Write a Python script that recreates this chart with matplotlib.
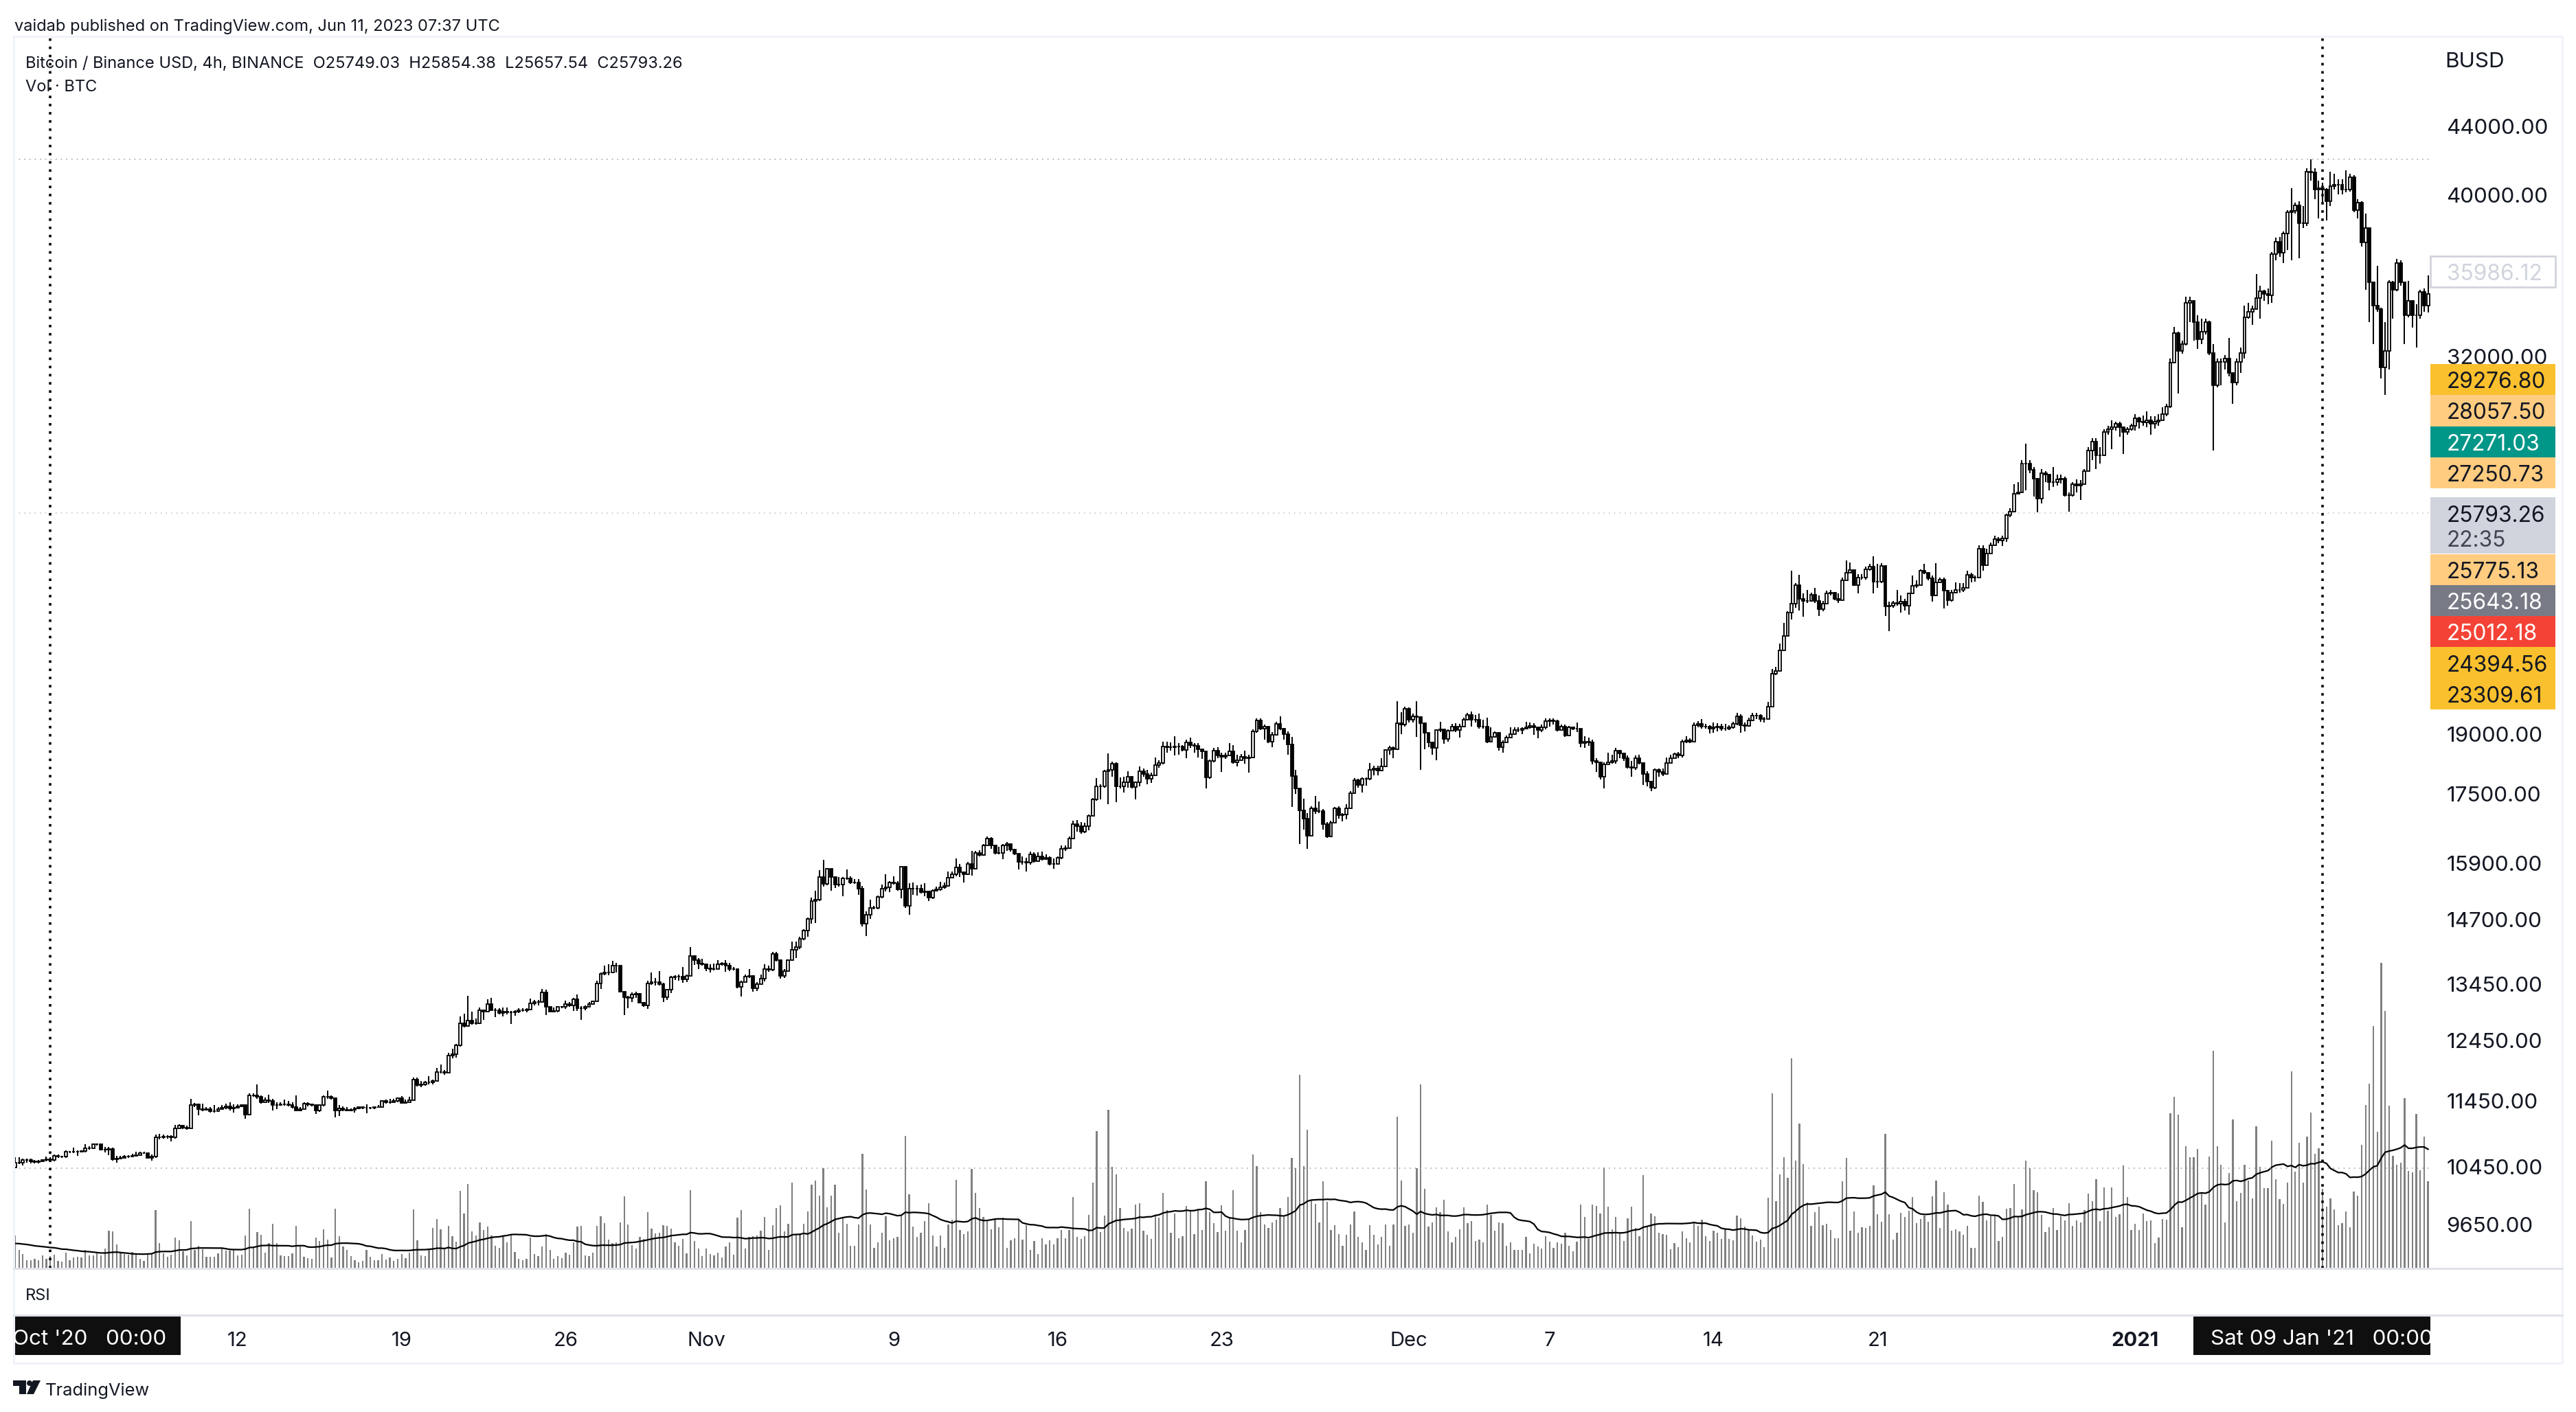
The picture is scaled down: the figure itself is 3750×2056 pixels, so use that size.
import matplotlib
matplotlib.use("Agg")
import matplotlib.pyplot as plt
import numpy as np
import pandas as pd
from matplotlib.patches import Circle, Polygon, Rectangle

W, H = 3750, 2056
PANE_L, PANE_R, PANE_T, PANE_B = 20, 3538, 53, 1847
INK = "#131722"

first_open = 10440
closes = [
    10507, 10514, 10553, 10549, 10535, 10525, 10535, 10549, 10560, 10549,
    10615, 10604, 10597, 10675, 10668, 10675, 10668, 10678, 10725, 10725,
    10785, 10782, 10704, 10704, 10715, 10560, 10572, 10583, 10597, 10604,
    10611, 10622, 10657, 10657, 10586, 10597, 10890, 10883, 10893, 10893,
    10883, 11022, 11060, 11033, 11022, 11385, 11393, 11317, 11309, 11324,
    11286, 11286, 11320, 11336, 11366, 11328, 11339, 11366, 11378, 11233,
    11533, 11541, 11517, 11424, 11463, 11451, 11378, 11385, 11393, 11393,
    11385, 11347, 11297, 11317, 11405, 11393, 11385, 11301, 11378, 11510,
    11510, 11494, 11301, 11328, 11309, 11301, 11309, 11328, 11347, 11339,
    11336, 11336, 11347, 11355, 11444, 11424, 11424, 11453, 11492, 11418,
    11428, 11463, 11790, 11700, 11715, 11740, 11740, 11765, 11918, 11918,
    11908, 12193, 12209, 12366, 12742, 12700, 12795, 12742, 12742, 12980,
    12955, 13090, 12980, 12970, 12925, 12955, 12940, 12940, 12950, 12980,
    12980, 12985, 13100, 13120, 13130, 13301, 13035, 12955, 12965, 13035,
    13035, 13090, 13060, 13170, 13015, 13010, 13035, 13090, 13135, 13470,
    13640, 13670, 13670, 13805, 13805, 13315, 13210, 13195, 13260, 13280,
    13110, 13060, 13470, 13490, 13490, 13450, 13210, 13345, 13585, 13590,
    13590, 13535, 13610, 13990, 13910, 13840, 13825, 13750, 13740, 13740,
    13825, 13840, 13805, 13740, 13740, 13405, 13490, 13590, 13600, 13375,
    13450, 13555, 13740, 13725, 14030, 13900, 13600, 13700, 13900, 14105,
    14155, 14320, 14480, 14725, 15090, 15110, 15590, 15445, 15770, 15590,
    15430, 15430, 15565, 15565, 15485, 15485, 15350, 14620, 14810, 14950,
    14950, 15170, 15350, 15370, 15485, 15470, 15330, 15815, 14990, 15350,
    15350, 15350, 15270, 15285, 15165, 15310, 15330, 15370, 15410, 15575,
    15660, 15800, 15700, 15660, 15880, 15770, 16130, 16070, 16300, 16455,
    16300, 16130, 16130, 16300, 16320, 16200, 16110, 15930, 15930, 15905,
    16090, 15945, 16048, 15985, 16010, 15880, 15880, 16010, 16210, 16230,
    16455, 16775, 16730, 16600, 16730, 16975, 17354, 17675, 17675, 18050,
    18080, 18240, 17675, 17675, 17770, 17910, 17660, 17770, 18050, 17975,
    17860, 17950, 18200, 18250, 18680, 18660, 18660, 18680, 18680, 18585,
    18780, 18710, 18690, 18615, 18545, 17903, 18300, 18565, 18440, 18420,
    18440, 18545, 18279, 18326, 18420, 18374, 18393, 19073, 19360, 19152,
    19200, 18808, 18984, 19270, 19152, 19004, 18730, 17931, 17627, 17104,
    16907, 16518, 17156, 17085, 17085, 16779, 16492, 16805, 17147, 16980,
    16997, 17147, 17508, 17829, 17718, 17857, 17857, 18090, 18118, 18071,
    18165, 18585, 18643, 18615, 19280, 19252, 19680, 19380, 19480, 19460,
    19280, 19033, 18778, 18633, 19102, 19122, 18876, 19082, 19200, 19102,
    19200, 19380, 19510, 19380, 19380, 19200, 19200, 18808, 18935, 19033,
    18662, 18778, 18905, 19004, 19102, 19102, 19152, 19182, 19222, 19172,
    19102, 19172, 19340, 19360, 19340, 19102, 19200, 18965, 19172, 19152,
    19150, 18759, 18805, 18780, 18310, 18275, 17910, 18220, 18275, 18310,
    18565, 18500, 18375, 18160, 18140, 18375, 18255, 17990, 17790, 17645,
    18085, 18030, 17990, 18255, 18375, 18480, 18445, 18805, 18830, 18805,
    19240, 19265, 19200, 19200, 19135, 19175, 19200, 19150, 19135, 19175,
    19265, 19465, 19240, 19215, 19365, 19495, 19495, 19395, 19395, 19730,
    20645, 20740, 21330, 21760, 22470, 22740, 23330, 22900, 22830, 22830,
    23040, 22830, 22570, 22740, 23070, 23100, 22900, 22860, 23500, 23750,
    23840, 23330, 23580, 23580, 23860, 23950, 23460, 23460, 23980, 22660,
    22690, 22770, 22740, 22815, 22690, 23070, 23310, 23340, 23800, 23750,
    23560, 23000, 23430, 23510, 23160, 22860, 23100, 23190, 23190, 23250,
    23670, 23590, 23590, 24540, 24000, 24380, 24670, 24870, 24830, 24900,
    25700, 25830, 26490, 26540, 27600, 27600, 27380, 27050, 26310, 27240,
    27190, 26920, 26920, 27000, 27050, 26440, 26440, 26840, 26780, 26840,
    27330, 28110, 28450, 27930, 27930, 28850, 28940, 29020, 29170, 29020,
    28850, 28940, 29080, 29380, 29260, 29230, 29320, 29170, 29260, 29320,
    29560, 29860, 31750, 33060, 32250, 32570, 34470, 34570, 33550, 32790,
    33120, 33550, 32170, 30750, 31760, 31760, 31920, 31280, 30870, 31760,
    32170, 33790, 34060, 34170, 34690, 35040, 34900, 34830, 36880, 37500,
    36950, 37920, 39050, 39130, 39450, 38480, 38480, 41320, 41280, 40300,
    40370, 40300, 39660, 40500, 40580, 40580, 40300, 40300, 41000, 39190,
    39590, 37470, 38220, 35450, 34340, 34170, 31530, 32250, 35450, 35100,
    36430, 35450, 33900, 34570, 33900, 33900, 35010, 34340, 34900,
]
highs = [
    10590, 10590, 10570, 10570, 10570, 10555, 10554, 10560, 10598, 10587,
    10634, 10627, 10616, 10694, 10687, 10736, 10695, 10697, 10780, 10755,
    10796, 10797, 10780, 10742, 10741, 10734, 10610, 10608, 10622, 10626,
    10640, 10670, 10668, 10668, 10652, 10635, 10931, 10938, 10930, 10919,
    10920, 11078, 11086, 11070, 11059, 11482, 11416, 11405, 11405, 11355,
    11347, 11378, 11347, 11378, 11405, 11424, 11393, 11393, 11393, 11378,
    11572, 11572, 11715, 11533, 11502, 11548, 11478, 11424, 11424, 11470,
    11443, 11432, 11541, 11355, 11424, 11424, 11405, 11397, 11393, 11533,
    11610, 11533, 11494, 11378, 11366, 11355, 11328, 11355, 11362, 11362,
    11393, 11355, 11362, 11385, 11455, 11470, 11478, 11478, 11507, 11530,
    11467, 11517, 11825, 11826, 11765, 11765, 11841, 11790, 11980, 12036,
    11944, 12235, 12305, 12387, 12862, 12918, 13235, 12950, 12824, 13025,
    12977, 13175, 13205, 13009, 13008, 13022, 13024, 12968, 12978, 13008,
    13008, 13007, 13185, 13160, 13158, 13358, 13345, 13039, 13021, 13052,
    13052, 13146, 13127, 13204, 13267, 13044, 13063, 13118, 13152, 13510,
    13669, 13800, 13823, 13894, 13852, 13705, 13307, 13240, 13294, 13309,
    13291, 13127, 13510, 13676, 13571, 13699, 13477, 13356, 13603, 13613,
    13631, 13780, 13633, 14153, 14000, 13941, 13926, 13845, 13829, 13840,
    13908, 13870, 13912, 13858, 13770, 13733, 13519, 13631, 13734, 13622,
    13496, 13625, 13829, 13797, 14066, 14060, 13925, 13730, 13922, 14265,
    14260, 14365, 14518, 14748, 15153, 15307, 15752, 15970, 15795, 15752,
    15590, 15590, 15590, 15760, 15606, 15550, 15550, 15410, 14870, 15120,
    14990, 15200, 15430, 15650, 15510, 15606, 15513, 15840, 15815, 15470,
    15486, 15414, 15430, 15470, 15307, 15326, 15394, 15490, 15474, 15713,
    15717, 15999, 15880, 15717, 15921, 16165, 16172, 16187, 16325, 16498,
    16478, 16298, 16256, 16325, 16371, 16343, 16219, 16096, 16054, 16012,
    16157, 16136, 16131, 16160, 16093, 16045, 16004, 16052, 16294, 16298,
    16489, 16862, 16878, 16833, 16817, 17010, 17399, 17877, 17721, 18078,
    18494, 18287, 18277, 17905, 17909, 18050, 17936, 17788, 18172, 18115,
    18092, 18015, 18399, 18326, 18806, 18806, 18777, 18950, 18759, 18710,
    18857, 18905, 18759, 18759, 18615, 18545, 18345, 18643, 18662, 18517,
    18517, 18759, 18710, 18469, 18487, 18565, 18469, 19132, 19410, 19410,
    19252, 19200, 19053, 19331, 19480, 19152, 19073, 18935, 18090, 17627,
    17372, 17041, 17192, 17443, 17309, 17130, 16822, 16866, 17174, 17192,
    17041, 17245, 17554, 17875, 17857, 17903, 17903, 18260, 18184, 18184,
    18374, 18615, 18691, 18681, 19880, 19575, 19740, 19710, 19540, 19880,
    19480, 19310, 19033, 18808, 19132, 19331, 19132, 19132, 19270, 19280,
    19270, 19430, 19560, 19610, 19510, 19540, 19380, 19440, 19172, 19073,
    19053, 18837, 18955, 19172, 19172, 19172, 19172, 19331, 19300, 19290,
    19172, 19252, 19410, 19410, 19410, 19380, 19252, 19252, 19222, 19200,
    19300, 19152, 18950, 18910, 18860, 18370, 18280, 18280, 18520, 18460,
    18640, 18580, 18490, 18440, 18300, 18440, 18460, 18280, 18050, 17810,
    18120, 18110, 18110, 18400, 18460, 18520, 18540, 18860, 18950, 18890,
    19300, 19340, 19400, 19265, 19240, 19300, 19290, 19265, 19265, 19240,
    19330, 19560, 19530, 19300, 19440, 19560, 19560, 19530, 19460, 19860,
    20790, 20850, 21530, 22150, 22510, 23800, 23410, 23680, 23070, 23190,
    23100, 23250, 23000, 22840, 23160, 23190, 23130, 23070, 23590, 24160,
    24080, 23860, 23700, 23700, 23940, 24030, 24290, 24030, 24060, 24000,
    22810, 22840, 23190, 23000, 22910, 23100, 23650, 23490, 23850, 24030,
    23750, 23650, 24060, 23590, 23590, 23190, 23180, 23440, 23410, 23410,
    23800, 23750, 23660, 24670, 24670, 24540, 24760, 24990, 24950, 25000,
    25750, 25950, 26840, 26920, 27750, 28390, 27750, 27470, 27060, 27390,
    27330, 27190, 27470, 27190, 27190, 27110, 26520, 26920, 27000, 26980,
    27410, 28250, 28590, 28590, 28250, 28940, 29080, 29320, 29260, 29260,
    28970, 29020, 29170, 29550, 29440, 29500, 29670, 29470, 29470, 29550,
    29850, 29970, 31920, 33330, 33120, 32730, 34750, 34750, 34580, 33890,
    33720, 33720, 33620, 32570, 31920, 31920, 32080, 32830, 31280, 31920,
    32400, 34340, 34470, 34340, 35880, 35280, 35100, 35170, 36970, 37730,
    37760, 38030, 39190, 40380, 39580, 39660, 39390, 41530, 42040, 41530,
    40790, 40700, 40380, 41320, 41200, 40870, 40870, 41410, 41200, 41120,
    39780, 39660, 39000, 38220, 35450, 36280, 34240, 33550, 35560, 35520,
    36610, 36540, 35450, 35520, 34580, 34410, 35100, 35170, 35800,
]
lows = [
    10430, 10488, 10467, 10511, 10505, 10498, 10505, 10522, 10533, 10522,
    10531, 10577, 10578, 10583, 10649, 10656, 10611, 10659, 10663, 10706,
    10715, 10760, 10693, 10666, 10620, 10542, 10514, 10558, 10572, 10582,
    10589, 10597, 10638, 10642, 10571, 10542, 10580, 10853, 10863, 10863,
    10827, 10865, 11034, 11011, 11003, 11030, 11347, 11225, 11282, 11301,
    11263, 11263, 11301, 11317, 11316, 11301, 11262, 11328, 11347, 11168,
    11225, 11510, 11482, 11405, 11432, 11416, 11301, 11324, 11370, 11370,
    11362, 11328, 11282, 11282, 11328, 11362, 11362, 11240, 11278, 11366,
    11483, 11471, 11186, 11213, 11290, 11286, 11282, 11262, 11324, 11320,
    11251, 11317, 11316, 11336, 11347, 11401, 11401, 11428, 11428, 11408,
    11418, 11443, 11463, 11675, 11665, 11690, 11715, 11715, 11775, 11892,
    11867, 11905, 12146, 12155, 12335, 12673, 12685, 12715, 12715, 12730,
    12810, 12955, 12958, 12858, 12903, 12866, 12901, 12734, 12883, 12924,
    12947, 12935, 12987, 13064, 13062, 13112, 12884, 12938, 12937, 12940,
    13007, 13000, 13032, 12960, 12959, 12803, 12979, 13062, 13079, 13151,
    13358, 13623, 13623, 13657, 13675, 13303, 12886, 13013, 13123, 13194,
    13093, 13032, 13000, 13444, 13432, 13427, 13125, 13156, 13282, 13526,
    13514, 13471, 13493, 13640, 13820, 13739, 13795, 13691, 13669, 13710,
    13730, 13798, 13686, 13693, 13710, 13371, 13223, 13485, 13571, 13318,
    13323, 13450, 13504, 13689, 13690, 13880, 13550, 13570, 13705, 13890,
    13950, 14120, 14292, 14365, 14620, 14640, 15085, 15390, 15425, 15310,
    15365, 15390, 15185, 15532, 15453, 15445, 15215, 14570, 14380, 14720,
    14910, 14910, 15150, 15282, 15268, 15430, 15298, 15150, 14950, 14810,
    15215, 15207, 15246, 15190, 15085, 15135, 15290, 15298, 15354, 15390,
    15578, 15610, 15594, 15474, 15634, 15632, 15754, 16045, 16055, 16304,
    16215, 16088, 16088, 15980, 16176, 16158, 16076, 15764, 15872, 15723,
    15864, 15904, 15923, 15952, 15968, 15855, 15781, 15952, 15991, 16171,
    16216, 16455, 16600, 16557, 16574, 16640, 16970, 17327, 17354, 17648,
    17245, 17908, 17291, 17629, 17521, 17650, 17624, 17354, 17675, 17910,
    17720, 17763, 17945, 18136, 18229, 18514, 18565, 18445, 18469, 18546,
    18374, 18643, 18517, 18393, 18355, 17627, 17857, 18279, 18374, 18025,
    18355, 18450, 18233, 18165, 18326, 18233, 18015, 18374, 19033, 19102,
    18857, 18759, 18662, 18955, 19102, 18857, 18469, 17174, 17490, 16322,
    16648, 16210, 16518, 17014, 17040, 16648, 16459, 16476, 16805, 16910,
    16840, 16892, 17156, 17508, 17644, 17535, 17700, 17829, 17950, 17950,
    18043, 18165, 18469, 18374, 18596, 19004, 19200, 19310, 19310, 18926,
    18090, 18615, 18662, 18469, 18326, 19053, 18740, 18808, 19102, 19053,
    18905, 19200, 19360, 19200, 19310, 19152, 19152, 18759, 18808, 18905,
    18565, 18517, 18808, 18926, 19004, 19053, 19004, 19132, 19152, 18984,
    18886, 19053, 19132, 19200, 19252, 19073, 19102, 18926, 18955, 19102,
    19050, 18660, 18640, 18700, 18220, 18030, 17850, 17620, 18220, 18240,
    18240, 18370, 18300, 18120, 17910, 18090, 18220, 17710, 17670, 17560,
    17610, 17910, 17930, 18000, 18250, 18370, 18370, 18400, 18760, 18760,
    18800, 19175, 19135, 19135, 19010, 19030, 19070, 19080, 19080, 19100,
    19135, 19240, 19040, 19070, 19200, 19340, 19400, 19320, 19300, 19400,
    19730, 20620, 20740, 21330, 21760, 22250, 22630, 22540, 22340, 22770,
    22810, 22780, 22360, 22510, 22740, 23000, 22860, 22780, 22860, 23510,
    23790, 23320, 23070, 23510, 23510, 23800, 23070, 23250, 23410, 22360,
    21900, 22630, 22690, 22480, 22540, 22400, 23070, 23250, 23340, 23700,
    23490, 22810, 22980, 23410, 22610, 22690, 22810, 23070, 23100, 23130,
    23250, 23440, 23450, 23590, 23820, 24000, 24430, 24700, 24720, 24640,
    24780, 25650, 25870, 26470, 26580, 26600, 27250, 26390, 25820, 26130,
    26920, 26600, 26730, 26790, 26870, 26390, 25840, 26390, 26520, 26260,
    26840, 27390, 27750, 27390, 27610, 27890, 28740, 28170, 28880, 28650,
    27970, 28740, 28880, 28880, 28970, 29080, 29020, 28740, 28970, 29080,
    29380, 29470, 29820, 31700, 30420, 32140, 32500, 33550, 32730, 32340,
    32570, 32990, 32080, 28110, 30660, 30750, 31440, 31130, 29970, 30750,
    31280, 31920, 33720, 33450, 34130, 33720, 34580, 34410, 34470, 36540,
    36720, 36430, 37090, 36540, 39000, 36650, 38220, 38340, 40790, 39780,
    38720, 39580, 38610, 39390, 40300, 40060, 40060, 40140, 40180, 39070,
    38720, 37270, 35100, 33550, 32570, 34060, 31040, 30360, 31440, 33720,
    35030, 35280, 32570, 33790, 33320, 32400, 33720, 34060, 34000,
]
volumes = [
    48, 27, 21, 12, 12, 14, 12, 19, 14, 18,
    20, 11, 10, 23, 12, 16, 17, 16, 27, 19,
    19, 22, 19, 29, 55, 54, 35, 22, 21, 20,
    24, 21, 14, 11, 21, 22, 85, 37, 22, 17,
    20, 45, 41, 25, 19, 69, 27, 33, 28, 17,
    17, 17, 22, 29, 26, 26, 28, 19, 20, 48,
    87, 30, 53, 49, 23, 37, 65, 37, 19, 18,
    18, 22, 62, 32, 17, 15, 14, 45, 40, 57,
    42, 16, 87, 47, 32, 27, 18, 12, 9, 11,
    27, 17, 12, 12, 21, 13, 16, 11, 14, 21,
    15, 23, 86, 41, 19, 18, 29, 59, 72, 57,
    29, 62, 47, 39, 113, 80, 123, 54, 48, 67,
    56, 61, 48, 33, 30, 48, 38, 49, 24, 14,
    12, 14, 45, 21, 18, 32, 50, 27, 14, 18,
    15, 23, 20, 38, 61, 62, 19, 18, 23, 62,
    76, 66, 42, 37, 38, 67, 105, 64, 34, 29,
    46, 43, 82, 58, 51, 52, 63, 62, 58, 38,
    33, 43, 22, 114, 40, 29, 18, 29, 21, 19,
    23, 16, 32, 38, 20, 74, 85, 29, 46, 47,
    48, 55, 75, 27, 63, 88, 92, 54, 65, 125,
    49, 49, 65, 83, 122, 128, 106, 146, 89, 106,
    122, 52, 74, 65, 33, 33, 64, 167, 115, 64,
    30, 38, 52, 76, 41, 44, 46, 77, 193, 108,
    61, 46, 52, 69, 95, 48, 32, 48, 30, 64,
    71, 129, 56, 50, 54, 145, 110, 88, 75, 71,
    57, 71, 60, 74, 30, 41, 44, 72, 42, 63,
    27, 40, 21, 44, 35, 41, 35, 44, 56, 44,
    56, 104, 46, 43, 47, 78, 125, 200, 53, 77,
    231, 148, 137, 88, 59, 54, 58, 93, 95, 55,
    49, 43, 77, 74, 110, 85, 52, 80, 44, 47,
    91, 84, 50, 85, 56, 127, 82, 66, 53, 92,
    55, 74, 114, 55, 38, 56, 71, 166, 149, 82,
    64, 59, 67, 71, 88, 75, 104, 161, 146, 282,
    149, 202, 99, 94, 67, 127, 97, 56, 63, 50,
    33, 49, 64, 83, 46, 38, 27, 63, 49, 35,
    46, 64, 33, 64, 221, 128, 62, 64, 52, 146,
    268, 116, 61, 67, 89, 82, 100, 54, 38, 46,
    57, 89, 66, 69, 40, 42, 38, 93, 78, 55,
    67, 66, 33, 38, 27, 27, 27, 46, 22, 36,
    32, 29, 47, 39, 30, 38, 36, 52, 33, 25,
    39, 93, 75, 43, 93, 91, 80, 147, 90, 57,
    75, 52, 40, 73, 90, 59, 47, 136, 62, 80,
    76, 52, 50, 49, 28, 37, 31, 54, 44, 38,
    67, 62, 71, 47, 40, 55, 52, 43, 58, 43,
    41, 77, 73, 61, 56, 48, 39, 42, 31, 103,
    255, 98, 137, 162, 132, 306, 157, 211, 152, 96,
    62, 82, 90, 63, 65, 56, 44, 44, 127, 161,
    55, 83, 52, 60, 59, 62, 121, 79, 68, 196,
    79, 42, 52, 81, 75, 84, 104, 66, 72, 77,
    68, 105, 128, 59, 111, 93, 55, 57, 54, 49,
    62, 30, 30, 106, 97, 70, 76, 77, 40, 46,
    87, 88, 123, 75, 86, 157, 146, 114, 111, 78,
    53, 60, 88, 56, 76, 70, 95, 62, 70, 67,
    85, 109, 98, 130, 69, 118, 84, 118, 75, 79,
    150, 104, 56, 65, 56, 80, 69, 70, 37, 45,
    72, 71, 226, 250, 224, 60, 178, 162, 162, 174,
    111, 93, 163, 317, 178, 151, 67, 139, 217, 98,
    110, 151, 128, 102, 207, 148, 117, 117, 186, 130,
    101, 94, 125, 287, 141, 183, 125, 192, 227, 167,
    175, 116, 90, 102, 86, 63, 66, 83, 60, 112,
    106, 180, 238, 269, 353, 199, 445, 375, 237, 164,
    151, 154, 248, 142, 140, 225, 143, 192, 127,
]
# bars just left of the chart, inferred from where the MA line starts
volumes_before = [34, 41, 30, 38, 45, 29, 36, 33, 40, 31, 37, 44, 28, 35, 39, 32, 42, 36, 30,
                  38, 43, 34, 31, 40, 36, 29, 41, 35, 37]

price_ticks = [44000, 40000, 32000, 19000, 17500, 15900, 14700, 13450, 12450, 11450, 10450, 9650]
tick_dates = ["2020-10-12", "2020-10-19", "2020-10-26", "2020-11-01", "2020-11-09", "2020-11-16", "2020-11-23",
              "2020-12-01", "2020-12-07", "2020-12-14", "2020-12-21", "2021-01-01"]
tick_labels = ["12", "19", "26", "Nov", "9", "16", "23", "Dec", "7", "14", "21", "2021"]
cursor_dates = ["2020-10-04", "2021-01-09"]
level_prices = [42023, 25793, 10437]
level_colors = ["#9598A1", "#B8BBC2", "#9598A1"]

# right hand price labels: text, fill, text colour, top, bottom
price_tags = [
    ("29276.80", "#FBC02D", "#131722", 530, 575),
    ("28057.50", "#FFCC80", "#131722", 575, 621),
    ("27271.03", "#009688", "#FFFFFF", 621, 666),
    ("27250.73", "#FFCC80", "#131722", 666, 711),
    ("25775.13", "#FFCC80", "#131722", 807, 852),
    ("25643.18", "#787B86", "#FFFFFF", 852, 897),
    ("25012.18", "#F44336", "#FFFFFF", 897, 942),
    ("24394.56", "#FBC02D", "#131722", 942, 988),
    ("23309.61", "#FBC02D", "#131722", 988, 1033),
]

plt.rcParams["font.family"] = ["Inter", "DejaVu Sans"]

closes = np.array(closes, dtype=float)
highs = np.array(highs, dtype=float)
lows = np.array(lows, dtype=float)
volumes = np.array(volumes, dtype=float)
assert len(closes) == len(highs) == len(lows) == len(volumes) == 619

opens = np.r_[first_open, closes[:-1]]
idx = np.arange(len(closes))
dates = pd.date_range("2020-10-02 12:00", periods=len(closes), freq="4h")
vol_ma = pd.Series(np.r_[volumes_before, volumes]).rolling(30, min_periods=1).mean().values[len(volumes_before):]

fig = plt.figure(figsize=(W / 100, H / 100), dpi=100, facecolor="white")
box = [PANE_L / W, 1 - PANE_B / H, (PANE_R - PANE_L) / W, (PANE_B - PANE_T) / H]
xlim = (-0.35, 618.6)

ax_vol = fig.add_axes(box, zorder=1)
ax_vol.bar(idx, volumes, width=0.4, color="#808080")
ax_vol.plot(idx, vol_ma, color="#000000", lw=1.6)
ax_vol.set_xlim(xlim)
ax_vol.set_ylim(0, PANE_B - PANE_T)
ax_vol.axis("off")

ax = fig.add_axes(box, zorder=2, facecolor="none")
ax.set_yscale("log")
ax.vlines(idx, lows, highs, color="#000000", lw=1.4, zorder=2)
up = closes >= opens
ax.bar(idx[up], (closes - opens)[up], bottom=opens[up], width=0.68, facecolor="white",
       edgecolor="black", linewidth=1.3, zorder=3)
ax.bar(idx[~up], (opens - closes)[~up], bottom=closes[~up], width=0.68, facecolor="black",
       edgecolor="black", linewidth=1.3, zorder=3)
for price, colour in zip(level_prices, level_colors):
    ax.axhline(price, color=colour, lw=1.1, linestyle=(0, (1, 4)), zorder=1)
for d in cursor_dates:
    ax.axvline(dates.get_loc(pd.Timestamp(d)), color="black", lw=2.6, linestyle=(0, (1, 2.3)),
               dash_capstyle="butt", zorder=4)
ax.set_xlim(xlim)
ax.set_ylim(9083, 49803)
for side in ax.spines.values():
    side.set_visible(False)

ax.yaxis.tick_right()
ax.set_yticks(price_ticks, [f"{p:.2f}" for p in price_ticks])
ax.minorticks_off()
ax.tick_params(axis="y", length=0, pad=17, labelsize=22.6, labelcolor=INK)
ax.set_xticks([dates.get_loc(pd.Timestamp(d)) for d in tick_dates], tick_labels)
ax.tick_params(axis="x", length=0, pad=66, labelsize=21, labelcolor=INK)
ax.get_xticklabels()[-1].set_fontweight("bold")

# page furniture, drawn in reference pixels
page = fig.add_axes([0, 0, 1, 1], zorder=3, facecolor="none")
page.set_xlim(0, W)
page.set_ylim(H, 0)
page.axis("off")

page.plot([20, 3730, 3730, 20, 20], [53, 53, 1985, 1985, 53], color="#F0F3FA", lw=2.2)
page.plot([20, 3730], [1847, 1847], color="#E0E3EB", lw=2.2)
page.plot([20, 3730], [1915, 1915], color="#E0E3EB", lw=2.2)

page.text(21, 39, "vaidab published on TradingView.com, Jun 11, 2023 07:37 UTC", fontsize=17, color=INK, va="center")
page.text(37, 93, "Bitcoin / Binance USD, 4h, BINANCE  O25749.03  H25854.38  L25657.54  C25793.26",
          fontsize=17, color=INK, va="center")
page.text(37, 127, "Vol · BTC", fontsize=17, color=INK, va="center")
page.text(37, 1887, "RSI", fontsize=17, color=INK, va="center")
page.text(3559, 90, "BUSD", fontsize=22.6, color=INK, va="center")

page.add_patch(Rectangle((3538, 373), 182, 45, facecolor="white", edgecolor="#D1D4DC", lw=2))
page.text(3562, 399, "35986.12", fontsize=22.8, color="#D1D4DC", va="center")
for text, fill, colour, top, bottom in price_tags:
    page.add_patch(Rectangle((3538, top), 182, bottom - top, facecolor=fill, edgecolor="none"))
    page.text(3562, (top + bottom) / 2 + 4, text, fontsize=22.8, color=colour, va="center")
page.add_patch(Rectangle((3538, 724), 182, 82, facecolor="#D1D4DC", edgecolor="none"))
page.text(3562, 751, "25793.26", fontsize=22.8, color="#131722", va="center")
page.text(3562, 788, "22:35", fontsize=22.8, color="#434651", va="center")

page.add_patch(Rectangle((20, 1914), 243, 59, facecolor="#0F0F0F", edgecolor="none"))
left_tag = page.text(18, 1950, "Oct '20   00:00", fontsize=22.6, color="white", va="center")
left_tag.set_clip_path(Rectangle((20, 1914), 243, 59, transform=page.transData))
page.add_patch(Rectangle((3193, 1914), 345, 59, facecolor="#0F0F0F", edgecolor="none"))
right_tag = page.text(3218, 1950, "Sat 09 Jan '21   00:00", fontsize=22.6, color="white", va="center")
right_tag.set_clip_path(Rectangle((3193, 1914), 345, 59, transform=page.transData))

# TradingView mark
page.add_patch(Polygon([(19, 2010), (38, 2010), (38, 2030), (28, 2030), (28, 2018), (19, 2018)], facecolor=INK))
page.add_patch(Circle((43, 2014), 4, facecolor=INK))
page.add_patch(Polygon([(48, 2010), (59, 2010), (49, 2030), (39, 2030)], facecolor=INK))
page.text(66, 2025, "TradingView", fontsize=18.3, color=INK, va="center")

fig.savefig("out.png", dpi=100)
plt.close(fig)
